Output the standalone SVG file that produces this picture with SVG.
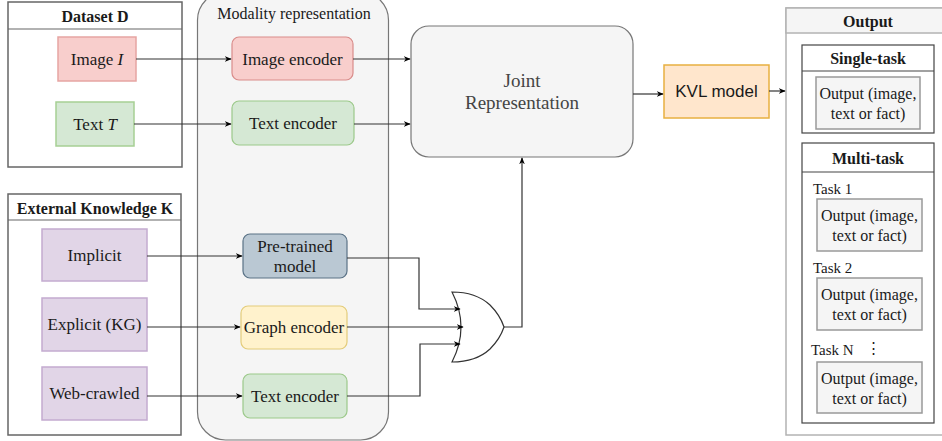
<svg xmlns="http://www.w3.org/2000/svg" width="942" height="441" viewBox="0 0 942 441">
<defs>
<marker id="ah" viewBox="0 0 10 10" refX="9" refY="5" markerWidth="7" markerHeight="7" orient="auto" markerUnits="userSpaceOnUse">
<path d="M0,1 L10,5 L0,9 L3,5 Z" fill="#000"/>
</marker>
<style>
text{font-family:"Liberation Serif","Times New Roman",serif;fill:#1a1a1a;text-anchor:middle;dominant-baseline:central}
.b{font-weight:bold;font-size:16px}
.l{font-size:17px}
.s{font-size:16px}
.t{font-size:15px;text-anchor:start}
.frame{fill:#fff;stroke:#666;stroke-width:1.5}
.line{stroke:#666;stroke-width:1.2}
.conn path{fill:none;stroke:#333;stroke-width:1.2}
.ob{fill:#f5f5f5;stroke:#999;stroke-width:1.5}
</style>
</defs>

<g id="modality">
<rect x="197.5" y="-8" width="191" height="448" rx="28" fill="#f5f5f5" stroke="#777" stroke-width="1.2"/>
<text class="s" x="294" y="13">Modality representation</text>
</g>

<g id="dataset">
<rect class="frame" x="8" y="2" width="174" height="165"/>
<line class="line" x1="8" y1="29" x2="182" y2="29"/>
<text class="b" x="95" y="16">Dataset D</text>
</g>
<g id="image">
<rect x="58" y="37" width="78" height="44" fill="#f8cecc" stroke="#e6a5a3" stroke-width="1.5"/>
<text class="l" x="97" y="59">Image <tspan font-style="italic">I</tspan></text>
</g>
<g id="text">
<rect x="56" y="102" width="78" height="44" fill="#d5e8d4" stroke="#a6cf94" stroke-width="1.5"/>
<text class="l" x="95" y="124">Text <tspan font-style="italic">T</tspan></text>
</g>

<g id="external">
<rect class="frame" x="8" y="194" width="173" height="241"/>
<line class="line" x1="8" y1="220" x2="181" y2="220"/>
<text class="b" x="95" y="208">External Knowledge K</text>
</g>
<g id="implicit">
<rect x="42" y="229" width="105" height="52" fill="#e1d5e7" stroke="#c3abd0" stroke-width="1.5"/>
<text class="l" x="94.5" y="255">Implicit</text>
</g>
<g id="explicit">
<rect x="42" y="298" width="105" height="53" fill="#e1d5e7" stroke="#c3abd0" stroke-width="1.5"/>
<text class="l" x="94.5" y="324.5">Explicit (KG)</text>
</g>
<g id="web">
<rect x="42" y="367" width="105" height="53" fill="#e1d5e7" stroke="#c3abd0" stroke-width="1.5"/>
<text class="l" x="94.5" y="393.5">Web-crawled</text>
</g>

<g id="imgenc">
<rect x="232" y="37" width="121" height="43" rx="7" fill="#f8cecc" stroke="#d98c8a" stroke-width="1.2"/>
<text class="l" x="292.5" y="59">Image encoder</text>
</g>
<g id="txtenc">
<rect x="232" y="101" width="122" height="44" rx="7" fill="#d5e8d4" stroke="#9cc98a" stroke-width="1.2"/>
<text class="l" x="293" y="123">Text encoder</text>
</g>
<g id="pretrained">
<rect x="243" y="234" width="104" height="44" rx="7" fill="#bac8d3" stroke="#5a7286" stroke-width="1.2"/>
<text class="l" x="295" y="246">Pre-trained</text>
<text class="l" x="295" y="266">model</text>
</g>
<g id="graphenc">
<rect x="241" y="306" width="106" height="43" rx="7" fill="#fff2cc" stroke="#e3cc7a" stroke-width="1.2"/>
<text class="l" x="294" y="327.5">Graph encoder</text>
</g>
<g id="txtenc2">
<rect x="243" y="374" width="104" height="44" rx="7" fill="#d5e8d4" stroke="#9cc98a" stroke-width="1.2"/>
<text class="l" x="295" y="396">Text encoder</text>
</g>

<g id="joint">
<rect x="411" y="26" width="222" height="131" rx="18" fill="#f5f5f5" stroke="#777" stroke-width="1.2"/>
<text x="522" y="80" style="font-size:19px;fill:#444">Joint</text>
<text x="522" y="102" style="font-size:19px;fill:#444">Representation</text>
</g>

<g id="orgate">
<path d="M452,292 Q476,292 490,305 Q500,315 504,327 Q500,339 490,349 Q476,362 452,362 Q470,327 452,292 Z" fill="#fff" stroke="#333" stroke-width="1.2"/>
</g>

<g id="kvl">
<rect x="664" y="65" width="105" height="53" fill="#ffe6cc" stroke="#e8b040" stroke-width="1.5"/>
<text x="716.5" y="91.5" style="font-family:'Liberation Sans',Arial,sans-serif;font-size:17px">KVL model</text>
</g>

<g id="output">
<rect x="786" y="8" width="160" height="427" fill="#fff" stroke="#b3b3b3" stroke-width="1.5"/>
<rect x="786" y="8" width="160" height="25" fill="#f5f5f5" stroke="#b3b3b3" stroke-width="1.5"/>
<text class="b" x="868" y="21">Output</text>
</g>
<g id="single">
<rect x="802" y="45" width="132" height="88" fill="#fff" stroke="#444" stroke-width="1.2"/>
<line x1="802" y1="71" x2="934" y2="71" stroke="#444" stroke-width="1.2"/>
<text class="b" x="868" y="58.5">Single-task</text>
<rect class="ob" x="816" y="77" width="104" height="52"/>
<text class="s" x="868" y="93">Output (image,</text>
<text class="s" x="868" y="113">text or fact)</text>
</g>
<g id="multi">
<rect x="802" y="143" width="132" height="280" fill="#fff" stroke="#444" stroke-width="1.2"/>
<line x1="802" y1="172" x2="934" y2="172" stroke="#444" stroke-width="1.2"/>
<text class="b" x="868" y="158">Multi-task</text>
<text class="t" x="813" y="189">Task 1</text>
<rect class="ob" x="817" y="199" width="105" height="52"/>
<text class="s" x="869.5" y="215">Output (image,</text>
<text class="s" x="869.5" y="235">text or fact)</text>
<text class="t" x="813" y="268">Task 2</text>
<rect class="ob" x="817" y="278" width="105" height="52"/>
<text class="s" x="869.5" y="294">Output (image,</text>
<text class="s" x="869.5" y="314">text or fact)</text>
<text class="t" x="811" y="350">Task N</text>
<text class="t" x="866" y="348">⋮</text>
<rect class="ob" x="817" y="362" width="105" height="51"/>
<text class="s" x="869.5" y="378">Output (image,</text>
<text class="s" x="869.5" y="398">text or fact)</text>
</g>

<g class="conn" id="connectors">
<path d="M136,59 H231" marker-end="url(#ah)"/>
<path d="M134,124 H231" marker-end="url(#ah)"/>
<path d="M147,256 H242" marker-end="url(#ah)"/>
<path d="M147,327 H240" marker-end="url(#ah)"/>
<path d="M147,396 H242" marker-end="url(#ah)"/>
<path d="M353,59 H410" marker-end="url(#ah)"/>
<path d="M354,124 H410" marker-end="url(#ah)"/>
<path d="M347,258 H419 V309 H460" marker-end="url(#ah)"/>
<path d="M347,327 H463" marker-end="url(#ah)"/>
<path d="M347,396 H420 V344 H460" marker-end="url(#ah)"/>
<path d="M504,327 H522 V158" marker-end="url(#ah)"/>
<path d="M633,94 H663" marker-end="url(#ah)"/>
<path d="M769,91 H785" marker-end="url(#ah)"/>
</g>
</svg>
